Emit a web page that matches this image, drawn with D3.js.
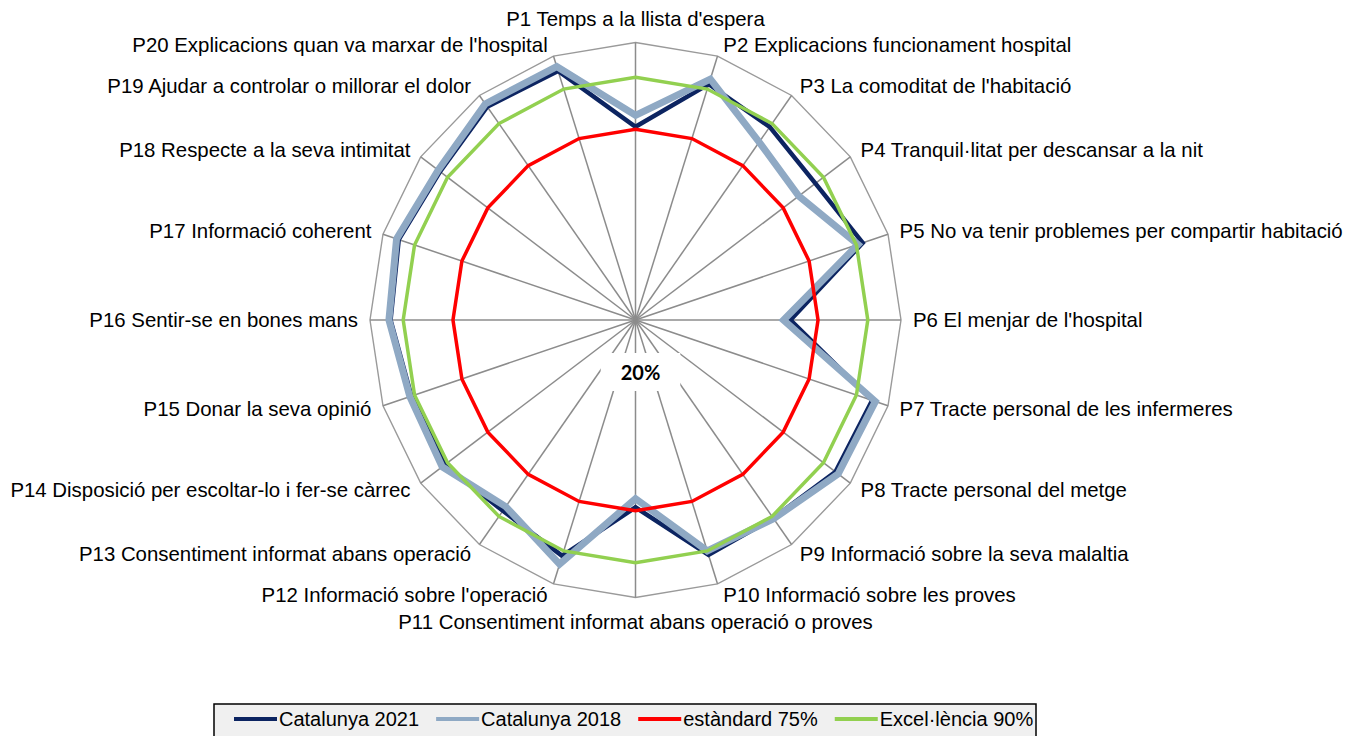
<!DOCTYPE html>
<html>
<head>
<meta charset="utf-8">
<script src="https://cdn.jsdelivr.net/npm/d3@7"></script>
<style>
  body { margin: 0; background: #ffffff; }
  svg { display: block; }
</style>
</head>
<body>
<svg id="chart" width="1345" height="736"></svg>
<script>
// ---------------- DATA ----------------
const categories = [
  "P1 Temps a la llista d'espera",
  "P2 Explicacions funcionament hospital",
  "P3 La comoditat de l'habitació",
  "P4 Tranquil·litat per descansar a la nit",
  "P5 No va tenir problemes per compartir habitació",
  "P6 El menjar de l'hospital",
  "P7 Tracte personal de les infermeres",
  "P8 Tracte personal del metge",
  "P9 Informació sobre la seva malaltia",
  "P10 Informació sobre les proves",
  "P11 Consentiment informat abans operació o proves",
  "P12 Informació sobre l'operació",
  "P13 Consentiment informat abans operació",
  "P14 Disposició per escoltar-lo i fer-se càrrec",
  "P15 Donar la seva opinió",
  "P16 Sentir-se en bones mans",
  "P17 Informació coherent",
  "P18 Respecte a la seva intimitat",
  "P19 Ajudar a controlar o millorar el dolor",
  "P20 Explicacions quan va marxar de l'hospital"
];
const catalunya2021 = [75.7, 91.5, 88.8, 87.0, 92.0, 66.7, 95.0, 94.5, 90.6, 91.2,
                       74.0, 91.5, 88.0, 91.0, 91.0, 93.8, 95.0, 92.8, 96.0, 95.5];
const catalunya2018 = [79.0, 93.0, 83.4, 80.8, 90.5, 64.6, 96.0, 95.5, 90.8, 90.0,
                       71.5, 94.0, 86.5, 92.0, 91.5, 94.3, 95.7, 93.5, 97.0, 96.8];
const estandard75   = [75, 75, 75, 75, 75, 75, 75, 75, 75, 75,
                       75, 75, 75, 75, 75, 75, 75, 75, 75, 75];
const excelencia90  = [90, 90, 90, 90, 90, 90, 90, 90, 90, 90,
                       90, 90, 90, 90, 90, 90, 90, 90, 90, 90];
const axisMin = 20;
const axisMax = 100;
const axisLabel = "20%";
const seriesNames = ["Catalunya 2021", "Catalunya 2018", "estàndard 75%", "Excel·lència 90%"];

// ---------------- LAYOUT ----------------
const svg = d3.select("#chart");
const cx = 635.5, cy = 320, rx = 265.5, ry = 277.5;
const n = categories.length;

const angle = d3.scaleLinear().domain([0, n]).range([0, 2 * Math.PI]);
const rX = d3.scaleLinear().domain([axisMin, axisMax]).range([0, rx]);
const rY = d3.scaleLinear().domain([axisMin, axisMax]).range([0, ry]);
const pt = (i, v) => [cx + rX(v) * Math.sin(angle(i)), cy - rY(v) * Math.cos(angle(i))];

const series = [
  { name: seriesNames[0], values: catalunya2021, color: "#0c2461", width: 4.5 },
  { name: seriesNames[1], values: catalunya2018, color: "#8fa9c4", width: 7 },
  { name: seriesNames[2], values: estandard75,   color: "#ff0000", width: 3.5 },
  { name: seriesNames[3], values: excelencia90,  color: "#92d050", width: 3.5 }
];

const idx = d3.range(n);

// outer ring
const ringLine = d3.line().x(i => pt(i, axisMax)[0]).y(i => pt(i, axisMax)[1]).curve(d3.curveLinearClosed);
svg.append("path").attr("d", ringLine(idx))
  .attr("fill", "none").attr("stroke", "#9a9a9a").attr("stroke-width", 1.4);

// spokes
svg.append("g").selectAll("line").data(idx).join("line")
  .attr("x1", cx).attr("y1", cy)
  .attr("x2", i => pt(i, axisMax)[0]).attr("y2", i => pt(i, axisMax)[1])
  .attr("stroke", "#8c8c8c").attr("stroke-width", 1.5);

// axis value label with white background
const lblG = svg.append("g");
const lbl = lblG.append("text")
  .attr("x", cx + 5).attr("y", cy + 60)
  .attr("text-anchor", "middle")
  .attr("font-family", "Lato, 'Open Sans', sans-serif")
  .attr("font-weight", "bold")
  .attr("font-size", 20)
  .attr("fill", "#000")
  .text(axisLabel);
const bb = lbl.node().getBBox();
lblG.insert("rect", "text")
  .attr("x", bb.x - 20).attr("y", bb.y - 7)
  .attr("width", bb.width + 40).attr("height", bb.height + 14)
  .attr("fill", "#ffffff");

// series lines
series.forEach(s => {
  const line = d3.line()
    .x(i => pt(i, s.values[i])[0])
    .y(i => pt(i, s.values[i])[1])
    .curve(d3.curveLinearClosed);
  svg.append("path").attr("d", line(idx))
    .attr("fill", "none").attr("stroke", s.color)
    .attr("stroke-width", s.width).attr("stroke-linejoin", "miter");
});

// category labels
svg.append("g").selectAll("text").data(idx).join("text")
  .each(function (i) {
    const a = angle(i), s = Math.sin(a), c = Math.cos(a);
    const [vx, vy] = pt(i, axisMax);
    let x, yc, anchor;
    if (Math.abs(s) < 0.01) {
      anchor = "middle"; x = vx; yc = vy - 24 * Math.sign(c);
    } else {
      anchor = s > 0 ? "start" : "end";
      x = vx + Math.sign(s) * (3 + 9 * Math.abs(s));
      yc = vy - 12 * c;
    }
    d3.select(this).attr("x", x).attr("y", yc + 7).attr("text-anchor", anchor);
  })
  .attr("font-family", "'Liberation Sans', Arial, sans-serif")
  .attr("font-size", 20.4)
  .attr("fill", "#000")
  .text(i => categories[i]);

// legend
const lg = svg.append("g");
lg.append("rect").attr("x", 214).attr("y", 704).attr("width", 822).attr("height", 40)
  .attr("fill", "#f0f0f0").attr("stroke", "#000").attr("stroke-width", 1.5);
let lx = 234;
series.forEach(s => {
  lg.append("line").attr("x1", lx).attr("x2", lx + 43).attr("y1", 719).attr("y2", 719)
    .attr("stroke", s.color).attr("stroke-width", 4);
  const t = lg.append("text").attr("x", lx + 45).attr("y", 726)
    .attr("font-family", "'Liberation Sans', Arial, sans-serif")
    .attr("font-size", 20).attr("fill", "#000").text(s.name);
  lx += 45 + t.node().getComputedTextLength() + 17;
});
</script>
</body>
</html>
